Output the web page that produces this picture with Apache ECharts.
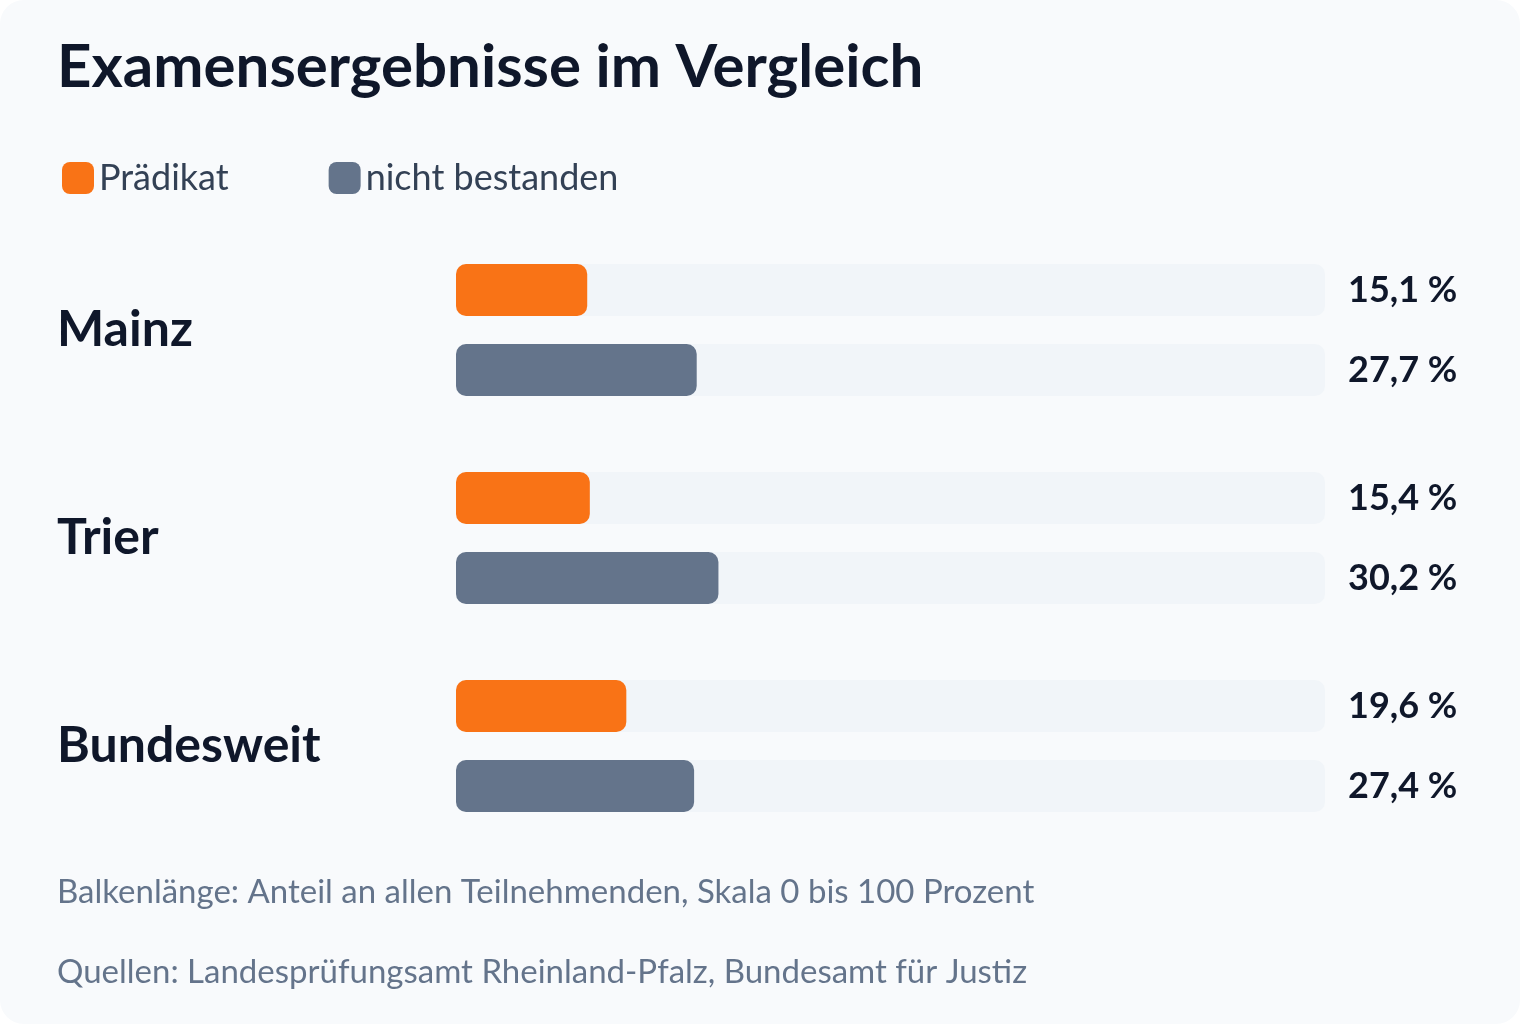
<!DOCTYPE html>
<html><head><meta charset="utf-8">
<script src="https://cdn.jsdelivr.net/npm/echarts@6/dist/echarts.min.js"></script>
<style>html,body{margin:0;background:#fff}#c{width:1520px;height:1024px}</style>
</head><body><div id="c"></div>
<script>
const categories = ['Mainz', 'Trier', 'Bundesweit'];
const praedikat = [15.1, 15.4, 19.6];
const nichtBestanden = [27.7, 30.2, 27.4];
const seriesNames = ['Prädikat', 'nicht bestanden'];
const fmt = v => v.toFixed(1).replace('.', ',') + ' %';
const F = 'Lato, "Noto Sans", sans-serif';
const rest = arr => arr.map(v => 100 - v);
const labelCfg = (src) => ({
  show: true, position: 'right', distance: 23,
  fontFamily: F, fontSize: 36, fontWeight: 'bold', color: '#0f172a',
  formatter: p => fmt(src[p.dataIndex])
});
const bar = (name, data, color, stack) => ({
  name, type: 'bar', stack, data, barWidth: 52, barGap: '53.8%',
  itemStyle: { color, borderRadius: 10 },
  showBackground: true,
  backgroundStyle: { color: '#f1f5f9', borderRadius: 10 }
});
const chart = echarts.init(document.getElementById('c'));
chart.setOption({
  animation: false,
  textStyle: { fontFamily: F },
  legend: {
    left: 57, top: 155, itemWidth: 32, itemHeight: 32, itemGap: 100,
    icon: 'roundRect', data: seriesNames,
    textStyle: { fontFamily: F, fontSize: 36, color: '#334155' }
  },
  graphic: [
    { type: 'rect', z: -10, shape: { x: 0, y: 0, width: 1520, height: 1024, r: 24 }, style: { fill: '#f8fafc' } },
    { type: 'text', left: 57, top: 38, style: { text: 'Examensergebnisse im Vergleich', font: 'bold 60px ' + F, fill: '#0f172a' } },
    { type: 'text', left: 57, top: 876, style: { text: 'Balkenlänge: Anteil an allen Teilnehmenden, Skala 0 bis 100 Prozent', font: '33px ' + F, fill: '#64748b' } },
    { type: 'text', left: 57, top: 956, style: { text: 'Quellen: Landesprüfungsamt Rheinland-Pfalz, Bundesamt für Justiz', font: '33px ' + F, fill: '#64748b' } }
  ],
  grid: { left: 456, right: 195, top: 226, height: 624 },
  xAxis: { type: 'value', min: 0, max: 100, show: false },
  yAxis: {
    type: 'category', inverse: true, data: categories,
    axisLine: { show: false }, axisTick: { show: false },
    axisLabel: {
      margin: 399, align: 'left', fontFamily: F, fontSize: 50, fontWeight: 'bold',
      color: '#0f172a', padding: [0, 0, 66, 0]
    }
  },
  series: [
    bar(seriesNames[0], praedikat, '#f97316', 'a'),
    bar(seriesNames[1], nichtBestanden, '#64748b', 'b'),
    { type: 'bar', stack: 'a', data: rest(praedikat), barWidth: 52, itemStyle: { color: 'rgba(0,0,0,0)' }, label: labelCfg(praedikat), silent: true },
    { type: 'bar', stack: 'b', data: rest(nichtBestanden), barWidth: 52, itemStyle: { color: 'rgba(0,0,0,0)' }, label: labelCfg(nichtBestanden), silent: true }
  ]
});
</script></body></html>
